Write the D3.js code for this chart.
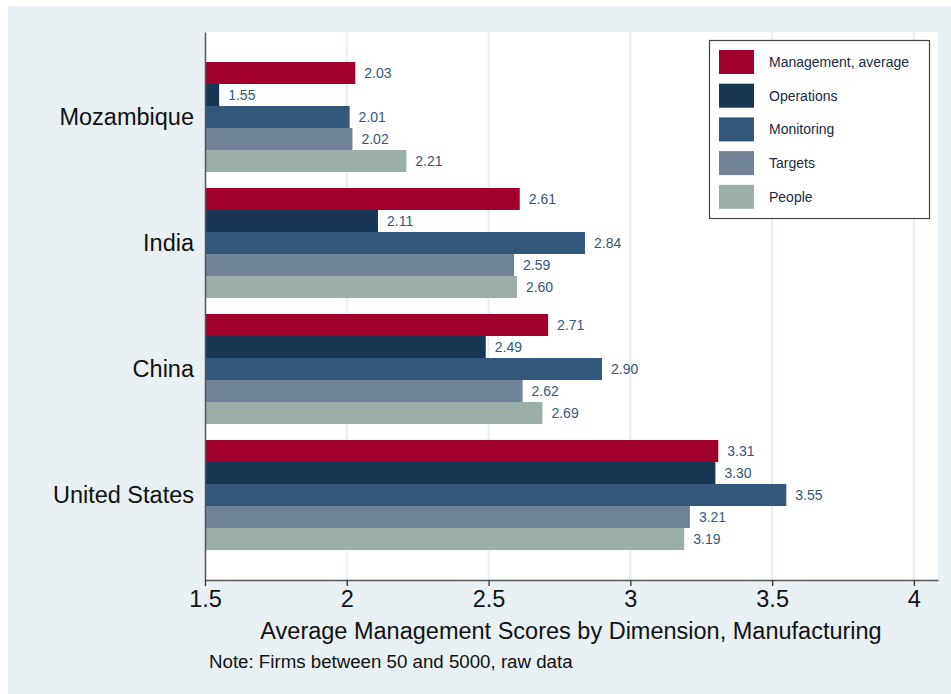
<!DOCTYPE html>
<html><head><meta charset="utf-8">
<script src="https://cdn.jsdelivr.net/npm/d3@7"></script>
<style>body{margin:0;background:#fff}svg{display:block;font-family:"Liberation Sans",Arial,sans-serif}</style>
</head><body><svg id="c" width="951" height="694"></svg>
<script>
const countries = ["Mozambique","India","China","United States"];
const seriesNames = ["Management, average","Operations","Monitoring","Targets","People"];
const seriesColors = ["#a0002b","#163654","#32577a","#708298","#9bafa8"];
const mozambique = [2.03,1.55,2.01,2.02,2.21];
const india = [2.61,2.11,2.84,2.59,2.60];
const china = [2.71,2.49,2.90,2.62,2.69];
const unitedStates = [3.31,3.30,3.55,3.21,3.19];
const xTicks = [1.5,2,2.5,3,3.5,4];
const xTitle = "Average Management Scores by Dimension, Manufacturing";
const note = "Note: Firms between 50 and 5000, raw data";

const values = [mozambique, india, china, unitedStates];
const svg = d3.select("#c");
const L = 205, R = 938, T = 32, B = 580;

svg.append("rect").attr("x",8).attr("y",6).attr("width",943).attr("height",688).attr("fill","#e8f0f3");
svg.append("rect").attr("x",L).attr("y",T).attr("width",R-L).attr("height",B-T).attr("fill","#fff");

const x = d3.scaleLinear().domain([1.5,4.085]).range([L,R]);
const y0 = d3.scaleBand().domain(countries).range([T,B]).paddingInner(0.127).paddingOuter(0.238);
const y1 = d3.scaleBand().domain(seriesNames).range([0,y0.bandwidth()]);
const color = d3.scaleOrdinal().domain(seriesNames).range(seriesColors);

// gridlines
svg.append("g").selectAll("line").data(xTicks.filter(t=>t>1.5)).join("line")
  .attr("x1",d=>x(d)).attr("x2",d=>x(d)).attr("y1",T).attr("y2",B)
  .attr("stroke","#e6eff3").attr("stroke-width",2);

const rows = [];
countries.forEach((c,i)=>seriesNames.forEach((s,j)=>rows.push({c,s,v:values[i][j]})));

svg.append("g").selectAll("rect").data(rows).join("rect")
  .attr("x",x(1.5)).attr("y",d=>y0(d.c)+y1(d.s))
  .attr("width",d=>x(d.v)-x(1.5)).attr("height",y1.bandwidth())
  .attr("fill",d=>color(d.s));

svg.append("g").selectAll("text").data(rows).join("text")
  .attr("x",d=>x(d.v)+9).attr("y",d=>y0(d.c)+y1(d.s)+y1.bandwidth()/2)
  .attr("dy","0.36em").attr("font-size",14).attr("fill","#34577a")
  .text(d=>d.v.toFixed(2));

// axes
const xa = svg.append("g").attr("transform",`translate(0,${B})`)
  .call(d3.axisBottom(x).tickValues(xTicks).tickSize(6).tickSizeOuter(0).tickFormat(d=>String(d)));
xa.select(".domain").attr("stroke","#555").attr("stroke-width",1.5);
xa.selectAll(".tick line").attr("stroke","#333").attr("stroke-width",1.3);
xa.selectAll(".tick text").attr("font-size",23.5).attr("fill","#111").attr("y",10).attr("dy","0.71em").attr("font-family","Liberation Sans, Arial, sans-serif");

const ya = svg.append("g").attr("transform",`translate(${L},0)`)
  .call(d3.axisLeft(y0).tickSize(0).tickPadding(11));
ya.select(".domain").attr("stroke","#555").attr("stroke-width",1.5);
ya.selectAll(".tick text").attr("font-size",23.5).attr("fill","#111").attr("font-family","Liberation Sans, Arial, sans-serif");

svg.append("text").attr("x",571).attr("y",639).attr("text-anchor","middle")
  .attr("font-size",23.5).attr("fill","#111").text(xTitle);
svg.append("text").attr("x",209).attr("y",668)
  .attr("font-size",18.7).attr("fill","#111").text(note);

// legend
const lg = svg.append("g");
lg.append("rect").attr("x",709.5).attr("y",40.5).attr("width",220).attr("height",178)
  .attr("fill","#fff").attr("stroke","#444").attr("stroke-width",1.2);
const li = lg.selectAll("g").data(seriesNames).join("g")
  .attr("transform",(d,i)=>`translate(719,${50+i*33.7})`);
li.append("rect").attr("width",35).attr("height",24).attr("fill",d=>color(d));
li.append("text").attr("x",50).attr("y",12).attr("dy","0.36em").attr("font-size",14).attr("fill","#1a2a40").text(d=>d);
</script></body></html>
